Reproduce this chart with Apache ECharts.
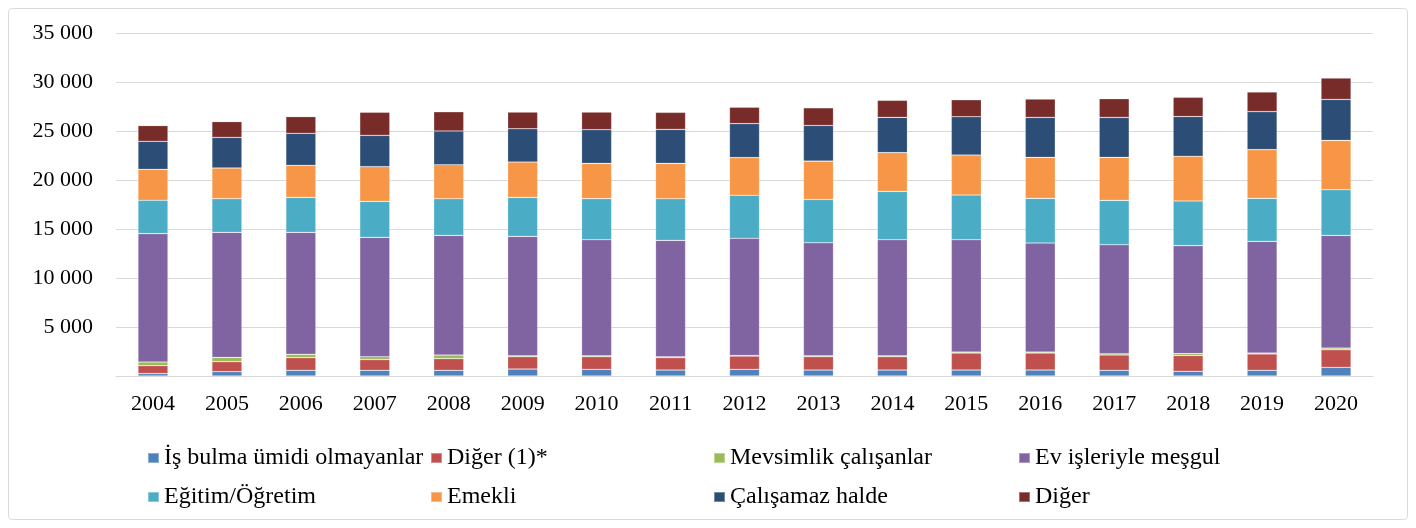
<!DOCTYPE html>
<html>
<head>
<meta charset="utf-8">
<script src="https://cdn.jsdelivr.net/npm/echarts@6/dist/echarts.min.js"></script>
<style>
  html, body { margin: 0; padding: 0; background: #fff; }
  #chart { width: 1416px; height: 528px; }
</style>
</head>
<body>
<div id="chart"></div>
<script>
const years = ['2004','2005','2006','2007','2008','2009','2010','2011','2012','2013','2014','2015','2016','2017','2018','2019','2020'];

// değerler (bin kişi)
const isBulmaUmidi = [250, 440, 580, 580, 580, 710, 680, 610, 680, 610, 610, 610, 610, 580, 480, 580, 880];
const diger1 = [800, 1020, 1290, 1090, 1190, 1260, 1290, 1260, 1360, 1360, 1360, 1735, 1735, 1565, 1600, 1670, 1800];
const mevsimlik = [380, 440, 340, 300, 370, 100, 100, 100, 50, 100, 100, 100, 100, 130, 200, 100, 170];
const evIsleri = [13100, 12760, 12450, 12180, 12210, 12180, 11840, 11870, 11960, 11525, 11840, 11460, 11120, 11120, 11020, 11390, 11495];
const egitim = [3400, 3435, 3570, 3670, 3740, 3980, 4185, 4250, 4390, 4420, 4930, 4560, 4560, 4525, 4560, 4390, 4660];
const emekli = [3160, 3130, 3270, 3540, 3470, 3600, 3600, 3606, 3845, 3910, 3950, 4080, 4185, 4390, 4560, 4965, 5035];
const calisamaz = [2860, 3130, 3265, 3200, 3435, 3400, 3435, 3470, 3470, 3640, 3605, 3910, 4080, 4080, 4050, 3880, 4185];
const diger = [1600, 1600, 1700, 2350, 1970, 1700, 1800, 1735, 1670, 1800, 1735, 1735, 1870, 1905, 1970, 2005, 2180];

const names = ['İş bulma ümidi olmayanlar', 'Diğer (1)*', 'Mevsimlik çalışanlar', 'Ev işleriyle meşgul',
  'Eğitim/Öğretim', 'Emekli', 'Çalışamaz halde', 'Diğer'];
const colors = ['#4F81BD', '#C0504D', '#9BBB59', '#8064A2', '#4BACC6', '#F79646', '#2C4D75', '#772C2A'];
const values = [isBulmaUmidi, diger1, mevsimlik, evIsleri, egitim, emekli, calisamaz, diger];

const font = "'Liberation Serif', 'Times New Roman', serif";

let chart = echarts.init(document.getElementById('chart'));

let series = [];
names.forEach((n, i) => {
  series.push({
    name: n,
    type: 'bar',
    stack: 'total',
    barWidth: 30,
    itemStyle: {
      color: colors[i],
      borderColor: 'rgba(255,255,255,0.35)',
      borderWidth: 0.6
    },
    data: values[i]
  });
});

// lejant: her öğe kendi yerinde (4 sütun x 2 satır)
const legendLeft = [142, 425, 708, 1013];
const legendTop = [441, 480];
let legends = names.map((n, i) => ({
  left: legendLeft[i % 4],
  top: legendTop[Math.floor(i / 4)],
  itemWidth: 11,
  itemHeight: 10,
  icon: 'rect',
  data: [n],
  selectedMode: false,
  formatter: '{t|{name}}',
  textStyle: {
    fontFamily: font,
    fontSize: 24,
    color: '#000',
    rich: { t: { fontFamily: font, fontSize: 24, color: '#000' } }
  }
}));

let option = {
  animation: false,
  color: colors,
  textStyle: { fontFamily: font },
  graphic: [{
    type: 'rect',
    shape: { x: 8.5, y: 8.5, width: 1399, height: 511, r: 4 },
    style: { fill: 'none', stroke: '#d9d9d9', lineWidth: 1 }
  }],
  grid: { left: 116, right: 43, top: 33, bottom: 152 },
  legend: legends,
  xAxis: {
    type: 'category',
    data: years,
    axisLine: { lineStyle: { color: '#d9d9d9', width: 1 } },
    axisTick: { show: false },
    axisLabel: { fontFamily: font, fontSize: 22, color: '#000', margin: 17 }
  },
  yAxis: {
    type: 'value',
    min: 0,
    max: 35000,
    interval: 5000,
    axisLine: { show: false },
    axisTick: { show: false },
    splitLine: { lineStyle: { color: '#d9d9d9', width: 1 } },
    axisLabel: {
      fontFamily: font,
      fontSize: 22,
      color: '#000',
      margin: 23,
      formatter: function (v) {
        if (v === 0) return '';
        let s = String(v);
        return s.slice(0, s.length - 3) + ' ' + s.slice(-3);
      }
    }
  },
  series: series
};

chart.setOption(option);
</script>
</body>
</html>
